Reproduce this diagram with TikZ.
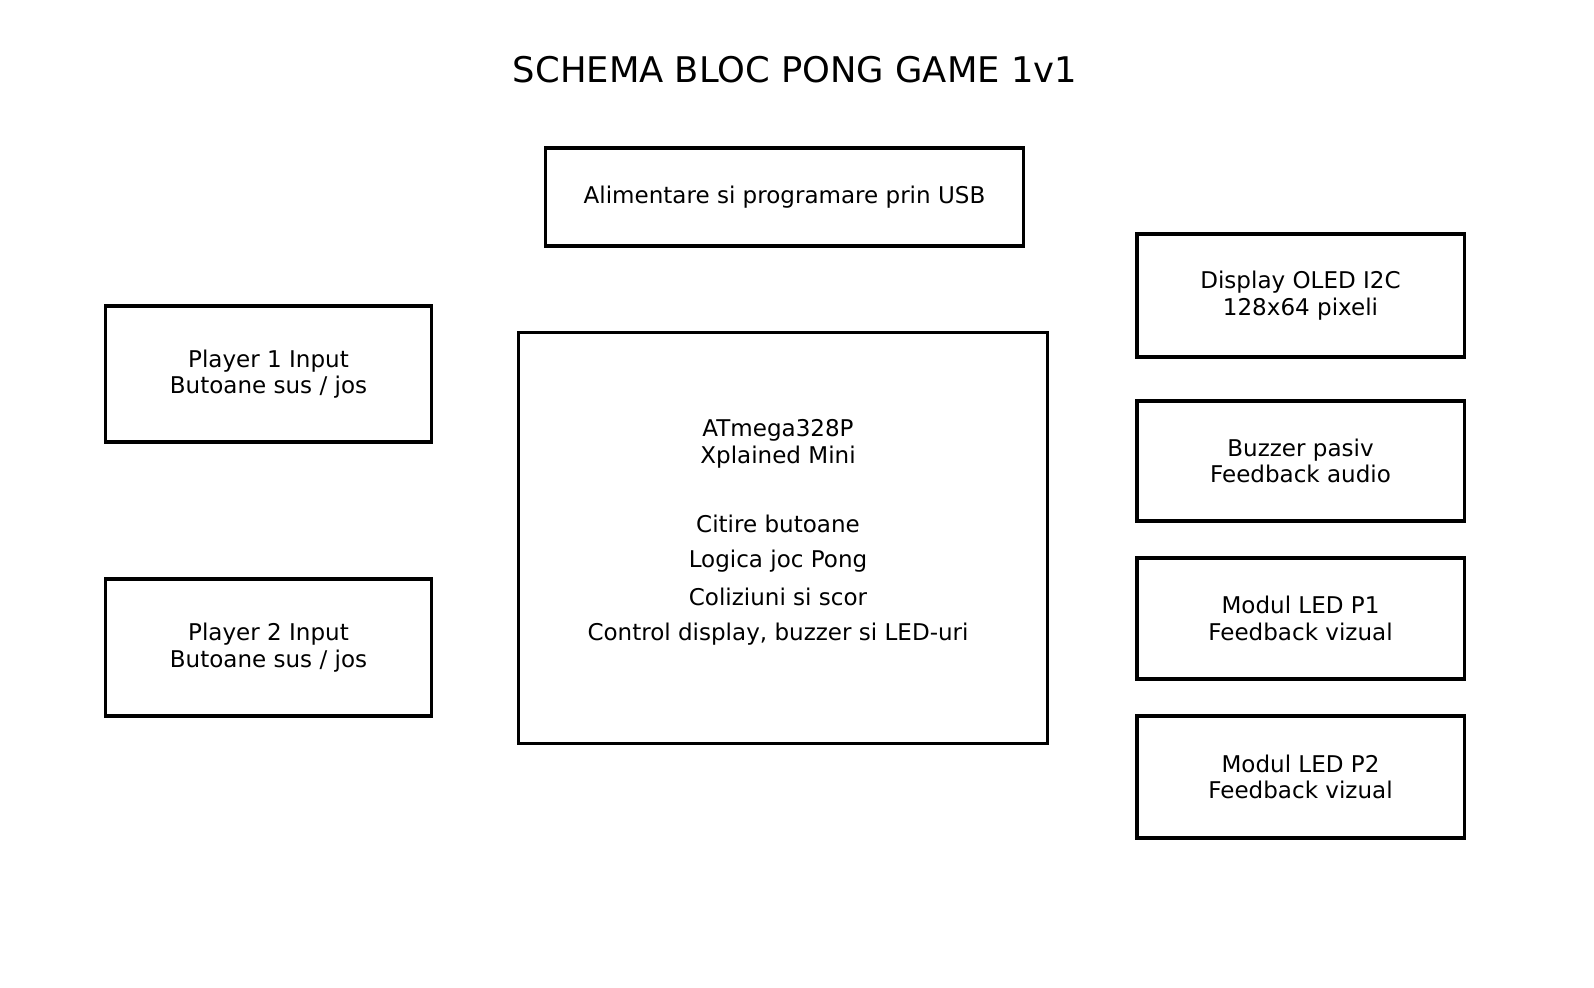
\documentclass[tikz,border=0pt]{standalone}
\usepackage{fontspec}
\setmainfont{DejaVu Sans}
\begin{document}
\begin{tikzpicture}[x=0.01cm, y=-0.01cm,
    every node/.style={font=\fontsize{6.55}{7.6}\selectfont, align=center},
    bloc/.style={draw, line width=0.9pt, inner sep=0pt}]
   	\useasboundingbox (0,0) rectangle (1594,987);

   	\node (title) at (795,70) {\fontsize{10.05}{12}\selectfont SCHEMA BLOC PONG GAME 1v1};

   	\node[bloc, minimum width=4.77cm, minimum height=0.98cm] (usb) at (784.5,197) {Alimentare si programare prin USB};

   	% LEFT SIDE
   	\node[bloc, minimum width=3.25cm, minimum height=1.36cm] (p1) at (268.5,374) {Player 1 Input\\Butoane sus / jos};
   	\node[bloc, minimum width=3.25cm, minimum height=1.37cm] (p2) at (268.5,647.5) {Player 2 Input\\Butoane sus / jos};

   	% MICROCONTROLLER
   	\node[bloc, minimum width=5.28cm, minimum height=4.10cm] (mcu) at (783,538) {};
   	\node (mcuname) at (778,444) {ATmega328P\\Xplained Mini};
   	\node (f1) at (778,524) {Citire butoane};
   	\node (f2) at (778,561) {Logica joc Pong};
   	\node (f3) at (778,597) {Coliziuni si scor};
   	\node (f4) at (778,634) {Control display, buzzer si LED-uri};

   	% RIGHT SIDE
   	\node[bloc, minimum width=3.27cm, minimum height=1.23cm] (oled) at (1300.5,295.5) {Display OLED I2C\\128x64 pixeli};
   	\node[bloc, minimum width=3.27cm, minimum height=1.20cm] (buzz) at (1300.5,461) {Buzzer pasiv\\Feedback audio};
   	\node[bloc, minimum width=3.27cm, minimum height=1.21cm] (led1) at (1300.5,618.5) {Modul LED P1\\Feedback vizual};
   	\node[bloc, minimum width=3.27cm, minimum height=1.22cm] (led2) at (1300.5,777) {Modul LED P2\\Feedback vizual};
\end{tikzpicture}
\end{document}
